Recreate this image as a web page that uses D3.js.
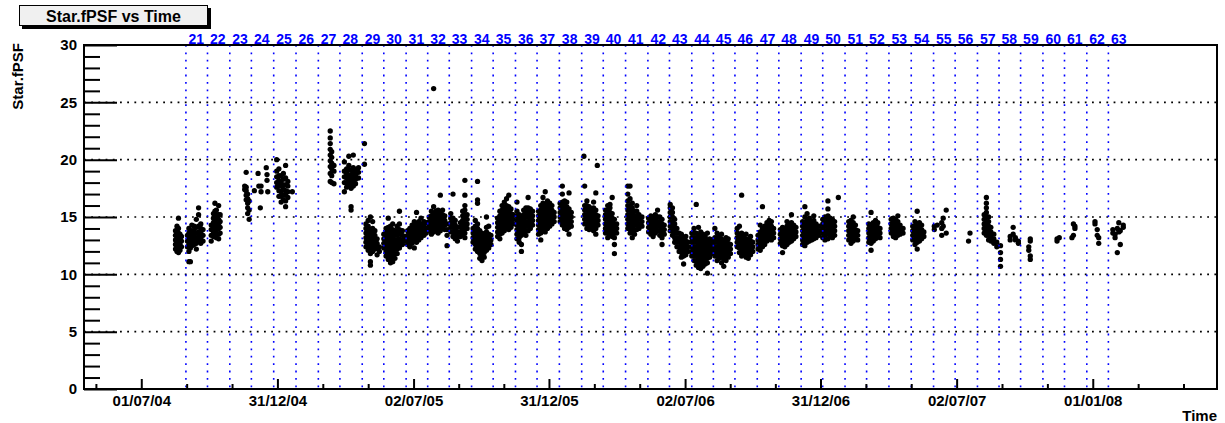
<!DOCTYPE html>
<html>
<head>
<meta charset="utf-8">
<script src="https://cdn.jsdelivr.net/npm/d3@7"></script>
<style>
  html, body { margin: 0; padding: 0; background: #fff; }
  svg { display: block; font-family: "Liberation Sans", Arial, Helvetica, sans-serif; font-weight: bold; }
</style>
</head>
<body>
<svg id="chart" width="1225" height="423"></svg>
<script>
// Observation nights: [days since 2004-07-01, Star.fPSF values measured that night...]
const EPOCH = "2004-07-01";

const psf2004 = [
  [46, 12.2, 12.6, 13.0, 13.4, 13.8],
  [48, 12.0, 12.5, 12.9, 13.3, 13.7, 14.2],
  [50, 11.9, 12.3, 12.8, 13.2, 13.6, 14.0, 14.9],
  [52, 12.1, 12.6, 13.0, 13.5],
  [54, 12.4, 12.9, 13.3],
  [62, 12.4, 12.9, 13.4],
  [64, 11.1, 12.0, 12.6, 13.1, 13.6, 14.0],
  [66, 11.1, 12.3, 12.8, 13.2, 13.6],
  [68, 12.5, 12.9, 13.3, 13.8, 14.3],
  [71, 12.6, 13.0, 13.4, 13.8, 14.2],
  [74, 12.2, 12.7, 13.1, 13.6, 14.1, 14.8],
  [77, 12.9, 13.3, 13.7, 14.2, 15.2, 15.8],
  [80, 12.7, 13.2, 13.6, 14.0, 14.4],
  [83, 12.9, 13.4, 13.9],
  [94, 12.9, 13.4, 13.9, 14.3],
  [97, 13.3, 13.7, 14.1, 14.5, 14.9, 15.3],
  [99, 13.5, 13.9, 14.3, 14.7, 15.1, 15.5, 16.2],
  [101, 13.2, 13.6, 14.0, 14.4, 14.8, 15.2, 15.6],
  [104, 13.1, 13.5, 14.0, 14.4, 14.8, 15.2, 16.0],
  [106, 13.6, 14.1, 14.6, 15.2],
  [139, 17.4, 17.7],
  [141, 16.5, 16.9, 17.3, 17.6, 18.9],
  [143, 15.3, 15.8, 16.2, 16.6, 17.0],
  [145, 14.8, 15.6, 16.4],
  [152, 17.3], [157, 18.8], [158, 17.7], [160, 15.8], [161, 17.7, 17.2],
  [168, 19.3], [169, 18.7, 18.2], [170, 17.2],
  [182, 17.6, 18.0, 18.5, 19.0, 20.0]
];

const psf2005 = [
  [185, 16.8, 17.3, 17.8, 18.2, 18.6, 19.2],
  [188, 16.3, 16.8, 17.2, 17.7, 18.1, 18.6],
  [191, 16.5, 16.9, 17.4, 17.8, 18.3, 18.8],
  [194, 15.9, 16.4, 16.9, 17.3, 17.8, 18.4, 19.5],
  [197, 16.7, 17.2, 17.7, 18.1],
  [203, 17.2],
  [254, 18.1, 18.8, 19.4, 19.9, 20.4, 20.9, 21.4, 21.9, 22.5],
  [256, 18.0, 18.6, 19.2, 19.7, 20.2, 20.7],
  [259, 17.9, 19.0, 19.5],
  [273, 17.2, 18.0, 18.5, 19.0, 19.8],
  [276, 17.6, 18.0, 18.4, 18.8, 19.2],
  [279, 17.8, 18.2, 18.6, 19.1, 19.5, 20.3],
  [282, 15.6, 15.9, 17.5, 17.9, 18.3, 18.7, 19.1],
  [285, 17.7, 18.1, 18.5, 18.9, 19.3, 20.4],
  [288, 17.9, 18.3, 18.7, 19.1],
  [292, 18.4, 18.9, 19.3],
  [300, 19.6, 21.4],
  [302, 12.4, 12.8, 13.2, 13.6, 14.0, 14.4],
  [305, 12.1, 12.6, 13.0, 13.4, 13.8, 14.2, 14.7],
  [308, 10.8, 11.1, 11.8, 12.3, 12.7, 13.1, 13.5, 13.9, 15.0],
  [311, 12.0, 12.4, 12.8, 13.2, 13.6, 14.0, 14.6],
  [314, 12.2, 12.6, 13.0, 13.4, 13.8],
  [317, 11.7, 12.3, 12.7, 13.1],
  [320, 12.0, 12.4],
  [326, 12.3, 12.7, 13.1, 13.5],
  [329, 11.6, 12.0, 12.4, 12.8, 13.2, 13.6, 14.0],
  [332, 11.3, 11.7, 12.1, 12.5, 12.9, 13.3, 13.7, 14.1, 14.9],
  [335, 11.0, 11.4, 11.8, 12.2, 12.6, 13.0, 13.4, 13.8, 14.2],
  [338, 11.1, 11.5, 11.9, 12.3, 12.7, 13.1, 13.5, 13.9, 14.4],
  [341, 11.4, 11.8, 12.2, 12.6, 13.0, 13.4, 13.8],
  [344, 11.8, 12.2, 12.6, 13.0, 13.4, 13.8, 14.2],
  [347, 12.3, 12.7, 13.1, 13.5, 13.9, 14.4, 15.5],
  [351, 12.6, 13.0, 13.4, 13.8],
  [354, 12.9, 13.3],
  [358, 12.6, 13.0, 13.4, 13.8],
  [361, 12.4, 12.8, 13.2, 13.6, 14.0],
  [364, 12.7, 13.1, 13.5, 13.9, 14.3],
  [367, 12.3, 12.9, 13.3, 13.7, 14.1, 14.6],
  [370, 12.8, 13.2, 13.6, 14.0, 14.4, 15.4],
  [373, 13.0, 13.4, 13.8, 14.2, 14.6],
  [376, 13.2, 13.6, 14.0, 14.4, 14.9],
  [380, 13.4, 13.8, 14.2, 14.6],
  [383, 13.6, 14.0, 14.5],
  [387, 13.8, 14.2, 14.6, 15.0],
  [390, 13.5, 13.9, 14.3, 14.7, 15.1, 15.5],
  [393, 13.7, 14.1, 14.5, 14.9, 15.3, 15.9, 26.2],
  [396, 13.9, 14.3, 14.7, 15.1, 15.5],
  [399, 13.6, 14.0, 14.4, 14.8, 15.2, 15.6],
  [402, 13.8, 14.2, 14.6, 15.0, 15.4, 16.9],
  [405, 14.0, 14.4, 14.8, 15.2, 15.6],
  [408, 13.9, 14.3, 14.7, 15.1],
  [411, 12.5, 13.4, 13.9, 14.4],
  [416, 13.7, 14.1, 14.5, 14.9, 15.3],
  [419, 13.3, 13.7, 14.1, 14.5, 14.9, 17.0],
  [422, 13.1, 13.5, 13.9, 14.3, 14.7],
  [425, 12.9, 13.3, 13.7, 14.1],
  [429, 13.3, 13.7, 14.1, 14.5],
  [432, 13.5, 13.9, 14.3, 14.7, 15.1, 15.5],
  [435, 13.2, 13.6, 14.0, 14.4, 14.8, 15.2, 15.6, 16.0, 16.9, 18.2],
  [438, 14.0, 14.4, 14.8, 15.2],
  [446, 12.8, 13.2, 13.6, 14.0],
  [449, 12.2, 12.6, 13.0, 13.4, 13.8, 14.2, 14.7],
  [452, 12.0, 12.4, 12.8, 13.2, 13.6, 14.0, 14.4, 16.2, 16.5, 18.1],
  [455, 11.4, 11.8, 12.2, 12.6, 13.0, 13.4, 13.8],
  [458, 11.2, 11.6, 12.0, 12.4, 12.8, 13.2, 13.6],
  [461, 11.5, 11.9, 12.3, 12.7, 13.1, 13.5],
  [464, 12.1, 12.5, 12.9, 13.3, 13.7, 14.1, 15.0],
  [467, 12.3, 12.7, 13.1, 13.5, 14.2],
  [470, 12.6, 13.0, 13.4],
  [479, 13.3, 13.7, 14.1, 14.5, 14.9],
  [482, 13.1, 13.5, 13.9, 14.3, 14.7, 15.1, 15.5],
  [485, 13.6, 14.0, 14.4, 14.8, 15.2, 15.6, 16.0],
  [488, 13.8, 14.2, 14.6, 15.0, 15.4, 15.8, 16.3],
  [491, 14.0, 14.4, 14.8, 15.2, 15.6, 16.0, 16.6],
  [494, 13.9, 14.3, 14.7, 15.1, 15.5, 15.9, 16.9],
  [497, 14.1, 14.5, 14.9, 15.3, 15.7],
  [500, 14.4, 14.8, 15.2],
  [505, 13.1, 13.5, 13.9, 14.3, 14.7, 15.1, 15.5, 16.3],
  [508, 12.8, 13.2, 13.6, 14.0, 14.4, 14.8, 15.2],
  [511, 12.0, 12.6, 13.4, 13.8, 14.2, 14.6, 15.0],
  [514, 13.6, 14.0, 14.4, 14.8, 15.2, 15.6],
  [517, 13.4, 13.8, 14.2, 14.6, 15.0, 15.4, 15.8],
  [520, 13.8, 14.2, 14.6, 15.0, 15.4, 15.8, 16.7],
  [523, 14.0, 14.4, 14.8, 15.2, 15.7],
  [526, 14.3, 14.7, 15.1, 15.5],
  [534, 13.5, 13.9, 14.3, 14.7, 15.1, 15.5],
  [537, 13.0, 13.6, 14.0, 14.4, 14.8, 15.2, 15.6, 16.0],
  [540, 13.8, 14.2, 14.6, 15.0, 15.4, 15.8, 16.2, 16.7],
  [543, 13.7, 14.1, 14.5, 14.9, 15.3, 15.7, 16.1, 17.2],
  [546, 14.0, 14.4, 14.8, 15.2, 15.6, 16.0, 16.4]
];

const psf2006 = [
  [549, 14.2, 14.6, 15.0, 15.4, 15.8, 16.2],
  [552, 14.4, 14.8, 15.2, 15.6, 16.0],
  [555, 14.6, 15.0, 15.4],
  [563, 14.6, 15.0, 15.4, 15.8, 16.2],
  [566, 14.3, 14.7, 15.1, 15.5, 15.9, 16.3, 17.0, 17.7],
  [569, 14.0, 14.4, 14.8, 15.2, 15.6, 16.0, 16.4],
  [572, 13.9, 14.3, 14.7, 15.1, 15.5, 15.9, 16.3],
  [575, 13.5, 14.1, 14.5, 14.9, 15.3, 15.7, 17.1],
  [578, 14.2, 14.6, 15.0, 15.4],
  [595, 20.3],
  [596, 14.4, 14.8, 15.2, 15.6, 16.0, 17.7],
  [599, 14.0, 14.4, 14.8, 15.2, 15.6, 16.0, 16.4],
  [602, 13.9, 14.3, 14.7, 15.1, 15.5, 15.9],
  [605, 14.1, 14.5, 14.9, 15.3, 15.7],
  [608, 13.8, 14.2, 14.6, 15.0, 15.4, 15.8, 16.3],
  [611, 13.5, 14.0, 14.4, 14.8, 15.2, 15.6, 17.1],
  [613, 19.5],
  [614, 14.3, 14.7, 15.1],
  [624, 13.6, 14.0, 14.4, 14.8, 15.2, 15.6],
  [627, 13.2, 13.6, 14.0, 14.4, 14.8, 15.2, 15.6, 16.0],
  [630, 13.4, 13.8, 14.2, 14.6, 15.0, 15.4, 15.8, 16.1],
  [633, 13.3, 13.7, 14.1, 14.5, 14.9, 15.3, 16.7],
  [636, 11.8, 12.6, 13.2, 13.6, 14.0, 14.4, 14.8],
  [639, 13.6, 14.0, 14.4],
  [654, 14.0, 14.4, 14.8, 15.2, 15.6, 16.0, 16.4, 17.0, 17.7],
  [657, 13.6, 14.0, 14.4, 14.8, 15.2, 15.6, 16.0, 16.6, 17.7],
  [660, 13.2, 13.8, 14.2, 14.6, 15.0, 15.4, 15.8, 16.2],
  [663, 13.5, 13.9, 14.3, 14.7, 15.1, 15.5],
  [666, 13.9, 14.3, 14.7, 15.1, 15.5, 16.0],
  [669, 14.0, 14.4, 14.8, 15.2],
  [673, 14.2, 14.6, 15.0],
  [682, 13.7, 14.1, 14.5, 14.9],
  [685, 13.5, 13.9, 14.3, 14.7, 15.1],
  [688, 13.3, 13.7, 14.1, 14.5, 14.9],
  [691, 13.6, 14.0, 14.4, 14.8, 15.2],
  [694, 13.8, 14.2, 14.6, 15.0, 15.6],
  [697, 13.4, 13.8, 14.2, 14.6, 15.0],
  [700, 12.6, 13.2, 13.6, 14.0, 14.4, 14.8],
  [703, 13.5, 13.9, 14.3],
  [711, 13.8, 14.2, 14.6, 15.0, 15.4, 15.8, 16.1],
  [714, 13.4, 13.8, 14.2, 14.6, 15.0, 15.4, 15.8],
  [717, 12.8, 13.2, 13.6, 14.0, 14.4, 14.8],
  [720, 12.4, 12.8, 13.2, 13.6, 14.0],
  [723, 12.0, 12.4, 12.8, 13.2, 13.6],
  [726, 11.5, 11.9, 12.3, 12.7, 13.1, 13.5],
  [729, 10.9, 11.6, 12.0, 12.4, 12.8, 13.2],
  [732, 11.7, 12.1, 12.5, 12.9, 13.3],
  [735, 12.0, 12.4, 12.8],
  [740, 11.6, 12.0, 12.4, 12.8, 13.2, 13.6],
  [743, 11.2, 11.6, 12.0, 12.4, 12.8, 13.2, 13.6, 14.0],
  [746, 10.8, 11.2, 11.6, 12.0, 12.4, 12.8, 13.2, 13.6, 16.1],
  [749, 10.6, 11.0, 11.4, 11.8, 12.2, 12.6, 13.0, 13.4, 14.1],
  [752, 10.5, 10.9, 11.3, 11.7, 12.1, 12.5, 12.9, 13.3, 13.7],
  [755, 10.7, 11.1, 11.5, 11.9, 12.3, 12.7, 13.1, 13.5],
  [758, 10.9, 11.3, 11.7, 12.1, 12.5, 12.9, 13.3],
  [761, 10.1, 11.0, 11.4, 11.8, 12.2, 12.6, 13.0, 13.6],
  [764, 11.5, 11.9, 12.3, 12.7, 13.1],
  [767, 11.8, 12.2, 12.6, 13.0],
  [771, 11.6, 12.0, 12.4, 12.8, 13.2, 14.0],
  [774, 11.2, 11.6, 12.0, 12.4, 12.8, 13.2, 13.6],
  [777, 11.4, 11.8, 12.2, 12.6, 13.0, 13.4],
  [780, 11.0, 11.5, 11.9, 12.3, 12.7, 13.1, 13.5],
  [783, 10.7, 11.3, 11.7, 12.1, 12.5, 12.9],
  [786, 11.2, 11.6, 12.0, 12.4, 12.8, 13.2],
  [789, 11.5, 11.9, 12.3, 12.7, 13.1],
  [792, 11.8, 12.2, 12.6],
  [801, 12.4, 12.8, 13.2, 13.6, 14.0],
  [804, 11.9, 12.3, 12.7, 13.1, 13.5, 14.2],
  [807, 11.6, 12.0, 12.4, 12.8, 13.2, 13.6, 16.9],
  [810, 11.8, 12.2, 12.6, 13.0, 13.4],
  [813, 11.5, 11.9, 12.3, 12.7, 13.1, 13.5],
  [816, 11.4, 11.8, 12.2, 12.6, 13.0],
  [819, 11.7, 12.1, 12.5, 12.9, 13.3],
  [822, 12.0, 12.4, 12.8],
  [829, 12.2, 12.6, 13.0, 13.4],
  [832, 12.1, 12.5, 12.9, 13.3, 13.7, 14.3],
  [835, 12.4, 12.8, 13.2, 13.6, 14.0, 15.9],
  [838, 12.6, 13.0, 13.4, 13.8, 14.2],
  [841, 12.9, 13.3, 13.7, 14.1, 14.5],
  [844, 13.1, 13.5, 13.9, 14.3, 14.7],
  [847, 13.0, 13.4, 13.8, 14.2, 14.6],
  [850, 13.2, 13.6, 14.0],
  [859, 12.7, 13.1, 13.5, 13.9],
  [862, 11.9, 12.5, 12.9, 13.3, 13.7, 14.1],
  [865, 12.4, 12.8, 13.2, 13.6, 14.0],
  [868, 12.6, 13.0, 13.4, 13.8, 14.2, 14.6],
  [871, 12.8, 13.2, 13.6, 14.0, 14.4],
  [874, 12.9, 13.3, 13.7, 14.1, 14.5, 15.2],
  [877, 13.1, 13.5, 13.9, 14.3],
  [880, 13.3, 13.7, 14.1],
  [889, 12.6, 13.0, 13.4, 13.8, 14.2, 14.6],
  [892, 12.5, 12.9, 13.3, 13.7, 14.1, 14.5, 15.0, 15.9],
  [895, 12.8, 13.2, 13.6, 14.0, 14.4, 14.8, 15.3],
  [898, 12.9, 13.3, 13.7, 14.1, 14.5, 14.9],
  [901, 13.0, 13.4, 13.8, 14.2, 14.6],
  [904, 13.1, 13.5, 13.9, 14.3, 14.7, 15.1],
  [907, 13.2, 13.6, 14.0, 14.4],
  [911, 13.4, 13.8, 14.2]
];

const psf2007 = [
  [916, 13.2, 13.6, 14.0, 14.4, 14.8],
  [919, 13.0, 13.4, 13.8, 14.2, 14.6, 15.0],
  [923, 13.1, 13.5, 13.9, 14.3, 14.7, 15.1, 15.7, 16.4],
  [926, 13.3, 13.7, 14.1, 14.5, 14.9],
  [929, 13.2, 13.6, 14.0, 14.4, 14.8],
  [932, 13.4, 13.8, 14.2, 14.6],
  [937, 16.7],
  [951, 13.0, 13.4, 13.8, 14.2, 14.6],
  [954, 12.7, 13.1, 13.5, 13.9, 14.3, 14.7],
  [957, 12.9, 13.3, 13.7, 14.1, 14.5, 15.0],
  [960, 13.1, 13.5, 13.9, 14.3],
  [963, 13.0, 13.4, 13.8],
  [978, 12.8, 13.2, 13.6, 14.0, 14.4],
  [981, 12.1, 12.7, 13.1, 13.5, 13.9, 14.3, 15.4],
  [984, 12.9, 13.3, 13.7, 14.1, 14.5],
  [987, 13.1, 13.5, 13.9, 14.3, 14.7],
  [990, 13.3, 13.7, 14.1, 14.5],
  [993, 13.2, 13.6, 14.0],
  [1008, 13.6, 14.0, 14.4, 14.8],
  [1011, 13.3, 13.7, 14.1, 14.5, 14.9],
  [1014, 13.2, 13.6, 14.0, 14.4, 14.8],
  [1017, 13.4, 13.8, 14.2, 14.6, 15.1],
  [1020, 13.5, 13.9, 14.3],
  [1024, 13.6, 14.0],
  [1037, 13.0, 13.4, 13.8, 14.2],
  [1040, 12.6, 13.0, 13.4, 13.8, 14.2, 14.6],
  [1043, 12.2, 12.8, 13.2, 13.6, 14.0, 14.4, 15.5],
  [1046, 12.9, 13.3, 13.7, 14.1, 14.5],
  [1049, 13.1, 13.5, 13.9, 14.3],
  [1052, 13.3, 13.7],
  [1066, 13.9, 14.2],
  [1070, 14.3],
  [1076, 14.5, 14.0, 13.4],
  [1078, 14.9, 14.2],
  [1082, 15.6, 13.6],
  [1112, 12.9],
  [1114, 13.6],
  [1133, 13.6, 14.0, 14.4, 14.8, 15.2],
  [1136, 13.4, 13.8, 14.2, 14.6, 15.0, 15.4, 15.8, 16.2, 16.7],
  [1139, 13.0, 13.4, 13.8, 14.2, 14.6, 15.0],
  [1142, 12.9, 13.3, 13.7, 14.1],
  [1146, 12.7, 13.1, 13.5],
  [1150, 12.4, 12.8],
  [1155, 10.7, 11.3, 11.9, 12.5],
  [1168, 13.0, 13.3],
  [1172, 13.5, 14.1],
  [1175, 13.0, 13.2],
  [1179, 12.7, 12.9],
  [1193, 12.1, 12.4],
  [1195, 11.3, 11.6, 12.9, 13.1],
  [1231, 12.9, 13.1],
  [1234, 13.2],
  [1251, 13.2],
  [1253, 13.4, 14.4],
  [1255, 14.0, 14.2]
];

const psf2008 = [
  [1282, 14.4, 14.6],
  [1285, 13.4, 13.9],
  [1287, 12.7, 13.2],
  [1306, 13.6, 13.9],
  [1309, 13.2, 13.5],
  [1312, 11.9, 14.0],
  [1314, 13.7, 14.5],
  [1316, 12.6, 13.8],
  [1320, 14.1, 14.3]
];

// Observation period boundaries (full-moon dates) and the number of the first period
const periodBounds = [
  "2004-08-30", "2004-09-28", "2004-10-28", "2004-11-26", "2004-12-26",
  "2005-01-25", "2005-02-24", "2005-03-25", "2005-04-24", "2005-05-23", "2005-06-22",
  "2005-07-21", "2005-08-19", "2005-09-18", "2005-10-17", "2005-11-16", "2005-12-15",
  "2006-01-14", "2006-02-13", "2006-03-14", "2006-04-13", "2006-05-13", "2006-06-11",
  "2006-07-11", "2006-08-09", "2006-09-07", "2006-10-07", "2006-11-05", "2006-12-05",
  "2007-01-03", "2007-02-02", "2007-03-03", "2007-04-02", "2007-05-02", "2007-06-01",
  "2007-06-30", "2007-07-30", "2007-08-28", "2007-09-26", "2007-10-26", "2007-11-24",
  "2007-12-24", "2008-01-22"
];
const firstPeriod = 21;

// Axes
const xRange = ["2004-04-15", "2008-06-16"];
const xTickDates = ["2004-07-01", "2004-12-31", "2005-07-02", "2005-12-31",
                    "2006-07-02", "2006-12-31", "2007-07-02", "2008-01-01"];
const yTicks = [0, 5, 10, 15, 20, 25, 30];
const yMinorStep = 1;

const title = "Star.fPSF vs Time";
const xTitle = "Time";
const yTitle = "Star.fPSF";

// ---------------------------------------------------------------
const svg = d3.select("#chart");
const frame = { left: 84, top: 45, right: 1217, bottom: 389 };
const DAY = 864e5;
const parse = d3.utcParse("%Y-%m-%d");
const epoch = parse(EPOCH).getTime();
const fmt = d3.utcFormat("%d/%m/%y");

const x = d3.scaleUtc()
  .domain(xRange.map(parse))
  .range([frame.left, frame.right]);
const y = d3.scaleLinear()
  .domain([yTicks[0], yTicks[yTicks.length - 1]])
  .range([frame.bottom, frame.top]);

const points = [psf2004, psf2005, psf2006, psf2007, psf2008]
  .flat()
  .flatMap(([day, ...vals]) => vals.map(v => ({ t: new Date(epoch + day * DAY), v })));

// horizontal dotted grid
svg.append("g")
  .selectAll("line")
  .data(yTicks.slice(1, -1))
  .join("line")
  .attr("x1", frame.left).attr("x2", frame.right)
  .attr("y1", d => y(d)).attr("y2", d => y(d))
  .attr("stroke", "#000")
  .attr("stroke-width", 1.6)
  .attr("stroke-dasharray", "1.8,5.4");

// data points
svg.append("g")
  .selectAll("circle")
  .data(points)
  .join("circle")
  .attr("cx", d => x(d.t))
  .attr("cy", d => y(d.v))
  .attr("r", 2.65)
  .attr("fill", "#000");

// period boundaries
const periods = svg.append("g");
periods.selectAll("line")
  .data(periodBounds)
  .join("line")
  .attr("x1", d => x(parse(d))).attr("x2", d => x(parse(d)))
  .attr("y1", frame.top).attr("y2", frame.bottom)
  .attr("stroke", "#0000ff")
  .attr("stroke-width", 1.6)
  .attr("stroke-dasharray", "1.8,5.6");
periods.selectAll("text")
  .data(periodBounds)
  .join("text")
  .attr("x", d => x(parse(d)) + 2.5)
  .attr("y", frame.top - 1)
  .attr("fill", "#0000ff")
  .attr("font-size", 14)
  .text((d, i) => firstPeriod + i);

// y axis: major ticks with labels, minor ticks
const yMinor = d3.range(yTicks[0], yTicks[yTicks.length - 1] + 1e-9, yMinorStep)
  .filter(v => !yTicks.includes(v));
svg.append("g")
  .attr("transform", `translate(${frame.left},0)`)
  .call(d3.axisLeft(y).tickValues(yMinor).tickSize(-16).tickFormat(""))
  .call(g => g.select(".domain").remove())
  .call(g => g.selectAll("line").attr("stroke", "#000").attr("stroke-width", 2));
svg.append("g")
  .attr("transform", `translate(${frame.left},0)`)
  .call(d3.axisLeft(y).tickValues(yTicks).tickSize(-33).tickPadding(7))
  .call(g => g.select(".domain").remove())
  .call(g => g.selectAll("line").attr("stroke", "#000").attr("stroke-width", 2))
  .call(g => g.selectAll("text")
    .attr("font-size", 15).attr("font-family", null).attr("font-weight", "bold").attr("fill", "#000"));

// x axis: major ticks with date labels, minor ticks at thirds
const majors = xTickDates.map(parse);
const step = (majors[1] - majors[0]) / 3;
const xMinor = [];
for (let t = majors[0].getTime() - step; t >= x.domain()[0].getTime(); t -= step) xMinor.push(new Date(t));
for (let i = 0; i < majors.length - 1; i++) {
  const a = majors[i].getTime(), b = majors[i + 1].getTime();
  xMinor.push(new Date(a + (b - a) / 3), new Date(a + 2 * (b - a) / 3));
}
for (let t = majors[majors.length - 1].getTime() + step; t <= x.domain()[1].getTime(); t += step) xMinor.push(new Date(t));

svg.append("g")
  .attr("transform", `translate(0,${frame.bottom})`)
  .call(d3.axisBottom(x).tickValues(xMinor).tickSize(-5).tickFormat(""))
  .call(g => g.select(".domain").remove())
  .call(g => g.selectAll("line").attr("stroke", "#000").attr("stroke-width", 2));
svg.append("g")
  .attr("transform", `translate(0,${frame.bottom})`)
  .call(d3.axisBottom(x).tickValues(majors).tickSize(-10).tickPadding(6.5).tickFormat(fmt))
  .call(g => g.select(".domain").remove())
  .call(g => g.selectAll("line").attr("stroke", "#000").attr("stroke-width", 2))
  .call(g => g.selectAll("text")
    .attr("font-size", 15).attr("font-family", null).attr("font-weight", "bold").attr("fill", "#000"));

// frame
svg.append("rect")
  .attr("x", frame.left).attr("y", frame.top)
  .attr("width", frame.right - frame.left).attr("height", frame.bottom - frame.top)
  .attr("fill", "none").attr("stroke", "#000").attr("stroke-width", 2);

// axis titles
svg.append("text")
  .attr("x", frame.right).attr("y", 421)
  .attr("text-anchor", "end").attr("font-size", 15)
  .text(xTitle);
svg.append("text")
  .attr("transform", `translate(23,${frame.top - 2}) rotate(-90)`)
  .attr("text-anchor", "end").attr("font-size", 15)
  .text(yTitle);

// title box with shadow
const tb = svg.append("g");
tb.append("rect").attr("x", 22).attr("y", 8).attr("width", 189).attr("height", 21).attr("fill", "#000");
tb.append("rect").attr("x", 19.5).attr("y", 5.5).attr("width", 188).attr("height", 20)
  .attr("fill", "#f0f0f0").attr("stroke", "#000").attr("stroke-width", 1);
tb.append("text")
  .attr("x", 113.5).attr("y", 22)
  .attr("text-anchor", "middle").attr("font-size", 16)
  .text(title);
</script>
</body>
</html>
